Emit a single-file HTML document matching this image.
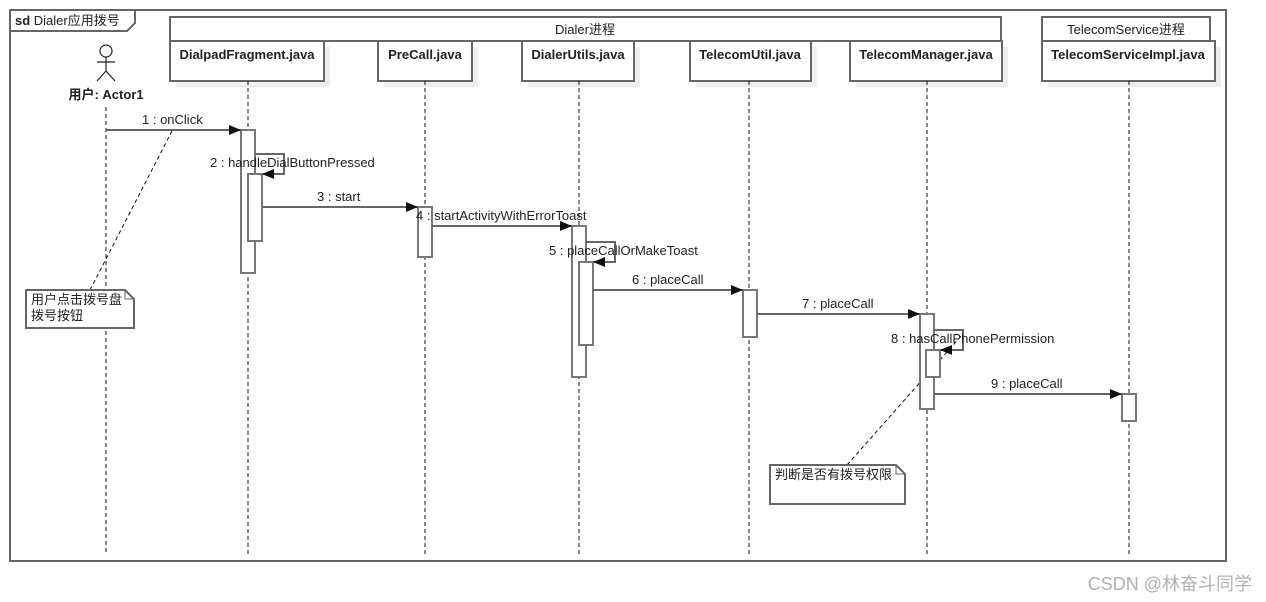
<!DOCTYPE html>
<html><head><meta charset="utf-8"><style>
html,body{margin:0;padding:0;background:#fff;width:1266px;height:602px;overflow:hidden}
svg{display:block}
text{font-family:"Liberation Sans","Noto Sans CJK SC",sans-serif;font-size:13px;fill:#222}
.b{font-weight:bold}
</style></head><body>
<svg width="1266" height="602" viewBox="0 0 1266 602">
<defs><marker id="a" markerWidth="12" markerHeight="10" refX="12" refY="5" orient="auto" markerUnits="userSpaceOnUse"><path d="M0,0 L12,5 L0,10 z" fill="#111"/></marker></defs>
<g fill="none" stroke="#666" stroke-width="2">
<rect x="10" y="10" width="1216" height="551"/>
<path d="M10,31 H127 L135,23 V10"/>
</g>
<text x="15" y="25"><tspan class="b">sd</tspan> Dialer应用拨号</text>
<g fill="#eee">
<rect x="176" y="47" width="154" height="40"/><rect x="384" y="47" width="94" height="40"/><rect x="528" y="47" width="112" height="40"/><rect x="696" y="47" width="121" height="40"/><rect x="856" y="47" width="152" height="40"/><rect x="1048" y="47" width="173" height="40"/>
</g>
<g fill="#fff" stroke="#666" stroke-width="2">
<rect x="170" y="17" width="831" height="24"/>
<rect x="1042" y="17" width="168" height="24"/>
<rect x="170" y="41" width="154" height="40"/><rect x="378" y="41" width="94" height="40"/><rect x="522" y="41" width="112" height="40"/><rect x="690" y="41" width="121" height="40"/><rect x="850" y="41" width="152" height="40"/><rect x="1042" y="41" width="173" height="40"/>
</g>
<text x="585" y="34" text-anchor="middle">Dialer进程</text>
<text x="1126" y="34" text-anchor="middle">TelecomService进程</text>
<g text-anchor="middle">
<text class="b" x="247" y="59">DialpadFragment.java</text><text class="b" x="425" y="59">PreCall.java</text><text class="b" x="578" y="59">DialerUtils.java</text><text class="b" x="750" y="59">TelecomUtil.java</text><text class="b" x="926" y="59">TelecomManager.java</text><text class="b" x="1128" y="59">TelecomServiceImpl.java</text>
</g>
<g stroke="#222" stroke-width="1.2" fill="none">
<circle cx="106" cy="51" r="6"/><path d="M106,57 V71 M97,62 H115 M106,71 L97,81 M106,71 L115,81"/>
</g>
<text class="b" x="106" y="99" text-anchor="middle">用户: Actor1</text>
<g stroke="#111" stroke-width="1" stroke-dasharray="4,3">
<path d="M106,107 V555 M248,81 V555 M425,81 V555 M579,81 V555 M749,81 V555 M927,81 V555 M1129,81 V555"/>
</g>
<g stroke="#111" stroke-width="1" stroke-dasharray="4,3">
<path d="M90,290 L172,131"/><path d="M847,465 L962,335"/>
</g>
<g fill="#fff" stroke="#777" stroke-width="2">
<rect x="241" y="130" width="14" height="143"/><rect x="248" y="174" width="14" height="67"/>
<rect x="418" y="207" width="14" height="50"/>
<rect x="572" y="226" width="14" height="151"/><rect x="579" y="262" width="14" height="83"/>
<rect x="743" y="290" width="14" height="47"/>
<rect x="920" y="314" width="14" height="95"/><rect x="926" y="350" width="14" height="27"/>
<rect x="1122" y="394" width="14" height="27"/>
</g>
<g stroke="#666" stroke-width="2" fill="none">
<path d="M106,130 H241"/>
<path d="M255,154 H284 V174 H262"/>
<path d="M262,207 H418"/>
<path d="M432,226 H572"/>
<path d="M586,242 H615 V262 H593"/>
<path d="M593,290 H743"/>
<path d="M757,314 H920"/>
<path d="M934,330 H963 V350 H940"/>
<path d="M934,394 H1122"/>
</g>
<g fill="#111"><path d="M241,130 l-12,-5 v10z"/><path d="M418,207 l-12,-5 v10z"/><path d="M572,226 l-12,-5 v10z"/><path d="M743,290 l-12,-5 v10z"/><path d="M920,314 l-12,-5 v10z"/><path d="M1122,394 l-12,-5 v10z"/><path d="M262,174 l12,-5 v10z"/><path d="M593,262 l12,-5 v10z"/><path d="M940,350 l12,-5 v10z"/></g>
<text x="142" y="124">1 : onClick</text>
<text x="210" y="167">2 : handleDialButtonPressed</text>
<text x="317" y="201">3 : start</text>
<text x="416" y="220">4 : startActivityWithErrorToast</text>
<text x="549" y="255">5 : placeCallOrMakeToast</text>
<text x="632" y="284">6 : placeCall</text>
<text x="802" y="308">7 : placeCall</text>
<text x="891" y="343">8 : hasCallPhonePermission</text>
<text x="991" y="388">9 : placeCall</text>
<g fill="#fff" stroke="#666" stroke-width="2">
<path d="M26,290 H125 L134,299 V328 H26 Z"/><path d="M125,290 V299 H134" fill="none" stroke-width="1"/>
<path d="M770,465 H896 L905,474 V504 H770 Z"/><path d="M896,465 V474 H905" fill="none" stroke-width="1"/>
</g>
<text x="31" y="304">用户点击拨号盘</text>
<text x="31" y="320">拨号按钮</text>
<text x="775" y="479">判断是否有拨号权限</text>
<text x="1252" y="590" text-anchor="end" style="font-size:18px;fill:#b0b0b0">CSDN @林奋斗同学</text>
</svg>
</body></html>
